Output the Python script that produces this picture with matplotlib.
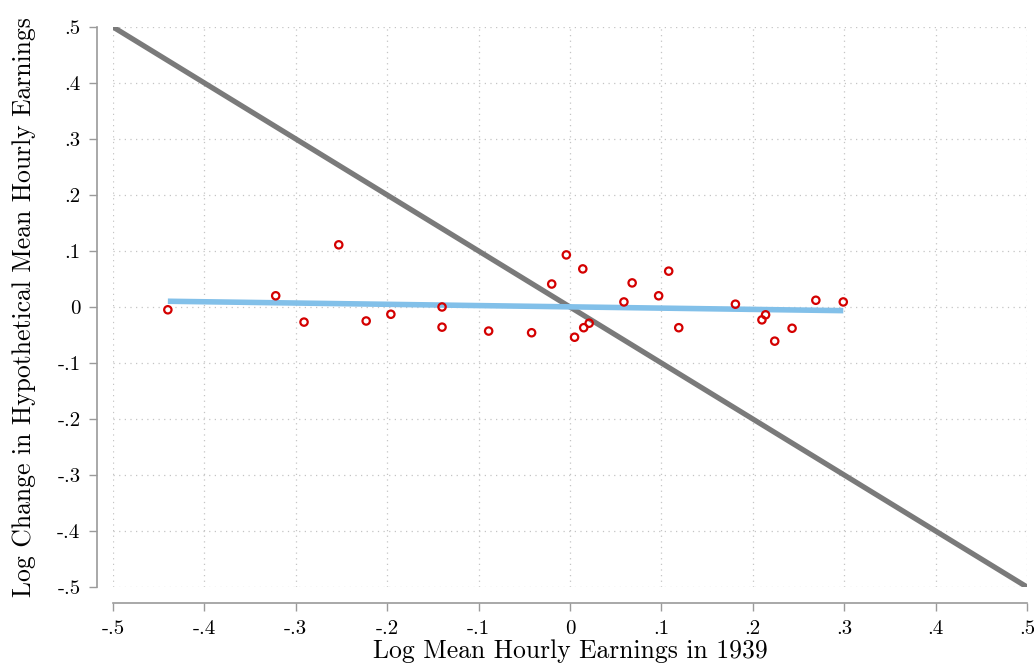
import numpy as np
import matplotlib.pyplot as plt

# data
earn_1939 = [-0.440, -0.322, -0.291, -0.253, -0.223, -0.196, -0.140, -0.140,
             -0.089, -0.042, -0.020, -0.004, 0.005, 0.014, 0.015, 0.021,
             0.059, 0.068, 0.097, 0.108, 0.119, 0.181, 0.210, 0.214,
             0.224, 0.243, 0.269, 0.299]
log_change = [-0.005, 0.020, -0.027, 0.111, -0.025, -0.013, 0.000, -0.036,
              -0.043, -0.046, 0.041, 0.093, -0.054, 0.068, -0.037, -0.029,
              0.009, 0.043, 0.020, 0.064, -0.037, 0.005, -0.023, -0.014,
              -0.061, -0.038, 0.012, 0.009]
tick_vals = np.round(np.arange(-0.5, 0.51, 0.1), 1)
tick_labels = ["-.5", "-.4", "-.3", "-.2", "-.1", "0", ".1", ".2", ".3", ".4", ".5"]

plt.rcParams["font.family"] = ["cmr10", "DejaVu Serif"]
plt.rcParams["axes.formatter.use_mathtext"] = True

fig = plt.figure(figsize=(10.34, 6.71), dpi=100)
ax = fig.add_axes([0.1093, 0.1252, 0.8839, 0.8346])

ax.set_xlim(-0.5, 0.5)
ax.set_ylim(-0.5, 0.5)

# grid
for v in tick_vals:
    ax.axvline(v, color="#c4c4c4", lw=0.9, ls=(0, (1, 3.5)), zorder=0)
    ax.axhline(v, color="#c4c4c4", lw=0.9, ls=(0, (1, 3.5)), zorder=0)

# 45 degree line
ax.plot([-0.5, 0.5], [0.5, -0.5], color="#7a7a7a", lw=3.8,
        solid_capstyle="butt", zorder=2)

# fitted line
x = np.array(earn_1939)
y = np.array(log_change)
slope, intercept = np.polyfit(x, y, 1)
xs = np.array([x.min(), x.max()])
ax.plot(xs, intercept + slope * xs, color="#82c0e9", lw=4.0,
        solid_capstyle="butt", zorder=3)

ax.scatter(x, y, s=28, facecolors="none", edgecolors="#d40000",
           linewidths=1.6, zorder=4)

for side in ["top", "right"]:
    ax.spines[side].set_visible(False)
for side in ["left", "bottom"]:
    ax.spines[side].set_position(("outward", 11.5))
    ax.spines[side].set_color("#9a9a9a")
    ax.spines[side].set_linewidth(1.2)

ax.set_xticks(tick_vals)
ax.set_xticklabels(tick_labels)
ax.set_yticks(tick_vals)
ax.set_yticklabels(tick_labels)
ax.tick_params(axis="both", length=6, width=1.0, color="#9a9a9a",
               labelsize=15, pad=6)

ax.set_xlabel("Log Mean Hourly Earnings in 1939", fontsize=18.5, labelpad=1)
ax.set_ylabel("Log Change in Hypothetical Mean Hourly Earnings", fontsize=18.5,
              labelpad=15)

fig.savefig("out.png", dpi=100)
